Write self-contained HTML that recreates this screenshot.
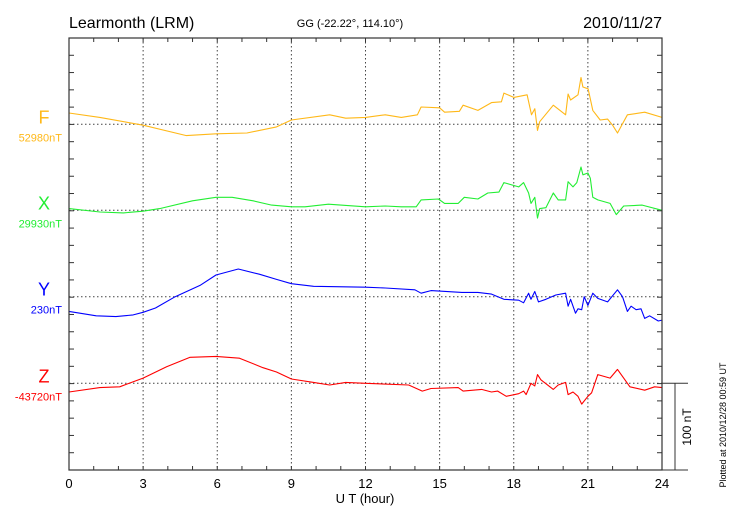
<!DOCTYPE html>
<html><head><meta charset="utf-8"><style>
html,body{margin:0;padding:0;background:#fff;}
svg{display:block;font-family:"Liberation Sans",sans-serif;}
</style></head><body>
<svg id="chart" width="730" height="520" viewBox="0 0 730 520">
<text x="69" y="28" font-size="16">Learmonth (LRM)</text>
<text x="350" y="27" font-size="11" text-anchor="middle">GG (-22.22°, 114.10°)</text>
<text x="662" y="28" font-size="16" text-anchor="end">2010/11/27</text>
<text x="365" y="503" font-size="13" text-anchor="middle">U T (hour)</text>
<text transform="translate(726,425) rotate(-90)" font-size="9" text-anchor="middle">Plotted at 2010/12/28 00:59 UT</text>
<text transform="translate(691,427) rotate(-90)" font-size="12" text-anchor="middle">100 nT</text>
<g id="grid"></g>
<g id="series"></g>
<g id="axes"></g>
</svg>
<script>
const hoursTicks = [0,3,6,9,12,15,18,21,24];
const seriesNames = ["F","X","Y","Z"];
const seriesBaselines = ["52980nT","29930nT","230nT","-43720nT"];
const fHours = [0,1.25,3,4.75,5.95,7.2,8.4,9,10.55,11.2,12,12.8,13.45,14.1,14.25,15,15.2,15.8,15.95,16.55,17.1,17.5,17.6,18,18.54,18.72,18.85,18.96,19.05,19.6,20.1,20.2,20.3,20.6,20.72,20.8,21.01,21.2,21.5,21.8,22,22.2,22.6,23.3,24];
const fValues = [13,8,-1,-13,-11,-10,-3,5,11,7,8,11,8,11,20,19,14,15,22,16,25,26,36,31,34,11,18,-7,3,22,11,35,28,34,54,43,41,16,5,6,-1,-10,11,14,8];
const xHours = [0,1.25,2.2,3,3.67,5,5.95,6.6,7.45,8.2,9,9.55,10.5,12,12.8,13.45,14.05,14.25,14.95,15.2,15.75,16,16.55,16.95,17.4,17.6,18.2,18.4,18.6,18.7,18.85,18.96,19.05,19.3,19.6,19.8,20.1,20.2,20.4,20.55,20.72,20.8,21,21.1,21.2,21.4,21.9,22.15,22.45,23.2,24];
const xValues = [2,-2,-3,-1,2,11,15,15,11,6,4,4,7,4,5,4,4,12,13,8,8,15,13,20,21,32,27,32,20,8,15,-9,2,3,20,12,12,33,27,32,50,41,43,37,15,12,8,-5,5,6,0];
const yHours = [0,1.1,1.9,2.6,3,3.5,4.3,5.3,5.95,6.85,7.7,8.4,9,9.9,12,12.8,14,14.25,14.65,15.9,16.55,17.1,17.6,18.2,18.4,18.6,18.7,18.85,19,19.3,19.7,20.1,20.2,20.3,20.5,20.6,20.75,20.85,21,21.2,21.4,21.8,22.2,22.4,22.6,22.75,22.95,23.15,23.3,23.5,23.85,24];
const yValues = [-17,-22,-23,-21,-18,-13,0,13,25,32,26,20,15,12,11,10,8,4,7,5,5,3,-3,-4,-7,4,-3,6,-6,-3,2,4,-11,-3,-19,-14,-15,0,-10,4,-2,-6,8,0,-17,-11,-15,-14,-25,-22,-28,-27];
const zHours = [0,1.25,2.05,3,3.95,4.9,5.95,6.9,7.85,8.4,9,9.9,10.55,11.2,12,13.75,14.3,14.65,15.75,15.95,16.7,17.1,17.35,17.7,18.2,18.4,18.5,18.7,18.85,18.96,19.1,19.6,19.8,20.1,20.2,20.4,20.6,20.75,21,21.15,21.4,21.9,22.2,22.7,23.3,23.7,24];
const zValues = [-10,-5,-4,6,19,30,31,29,18,13,5,1,-2,1,0,-2,-9,-6,-5,-9,-7,-10,-9,-15,-12,-9,-13,0,-3,10,4,-7,-2,1,-13,-10,-15,-24,-15,-11,10,6,16,-4,-8,-4,-5];

const NS="http://www.w3.org/2000/svg";
const L=69,R=662,T=38,B=470;
const pxPerNT=86.67/100;
const baseY=[124.3,210.3,296.7,383.3];
const colors=["#ffb818","#22ee33","#0000ff","#ff0000"];
function xScale(h){return L+(R-L)*h/24;}
function yScale(v,i){return baseY[i]-v*pxPerNT;}
function mk(tag,attrs,parent){const e=document.createElementNS(NS,tag);for(const k in attrs)e.setAttribute(k,attrs[k]);parent.appendChild(e);return e;}
const grid=document.getElementById('grid'),axes=document.getElementById('axes'),series=document.getElementById('series');
hoursTicks.forEach(h=>{if(h>0&&h<24){const l=mk('line',{x1:xScale(h),x2:xScale(h),y1:T,y2:B,stroke:'#444','stroke-width':1,'stroke-dasharray':'1.5,2.5'},grid);

}});
baseY.forEach((y,i)=>{const l=mk('line',{x1:L,x2:R,y1:y,y2:y,stroke:'#444','stroke-width':1,'stroke-dasharray':'1.5,2.5'},grid);

});
const fr=mk('rect',{x:L,y:T,width:R-L,height:B-T,fill:'none',stroke:'#333','stroke-width':1.2},axes);


for(let h=0;h<=24;h++){const x=xScale(h);mk('line',{x1:x,x2:x,y1:T,y2:T+4,stroke:'#333'},axes);mk('line',{x1:x,x2:x,y1:B,y2:B-4,stroke:'#333'},axes);}
for(let k=0;k<=25;k++){const y=T+k*(B-T)/25;mk('line',{x1:L,x2:L+5,y1:y,y2:y,stroke:'#333'},axes);mk('line',{x1:R,x2:R-5,y1:y,y2:y,stroke:'#333'},axes);}
hoursTicks.forEach(h=>{const t=mk('text',{x:xScale(h),y:488,'font-size':13,'text-anchor':'middle'},axes);t.textContent=h;

});
mk('line',{x1:R,x2:688,y1:baseY[3],y2:baseY[3],stroke:'#333'},axes);
mk('line',{x1:R,x2:688,y1:B,y2:B,stroke:'#333'},axes);
const sb=mk('line',{x1:675,x2:675,y1:baseY[3],y2:B,stroke:'#333'},axes);


const H=[fHours,xHours,yHours,zHours],V=[fValues,xValues,yValues,zValues];
seriesNames.forEach((n,i)=>{
 const pts=H[i].map((h,j)=>xScale(h).toFixed(1)+','+yScale(V[i][j],i).toFixed(1)).join(' ');
 const p=mk('polyline',{points:pts,fill:'none',stroke:colors[i],'stroke-width':1.1,'stroke-linejoin':'round'},series);
 
 
 const lt=mk('text',{x:44,y:baseY[i]-1,'font-size':18,'text-anchor':'middle',fill:colors[i]},axes);lt.textContent=n;
 
 
 const bt=mk('text',{x:62,y:baseY[i]+17,'font-size':11,'text-anchor':'end',fill:colors[i]},axes);bt.textContent=seriesBaselines[i];
 
 
});
</script>
</body></html>
